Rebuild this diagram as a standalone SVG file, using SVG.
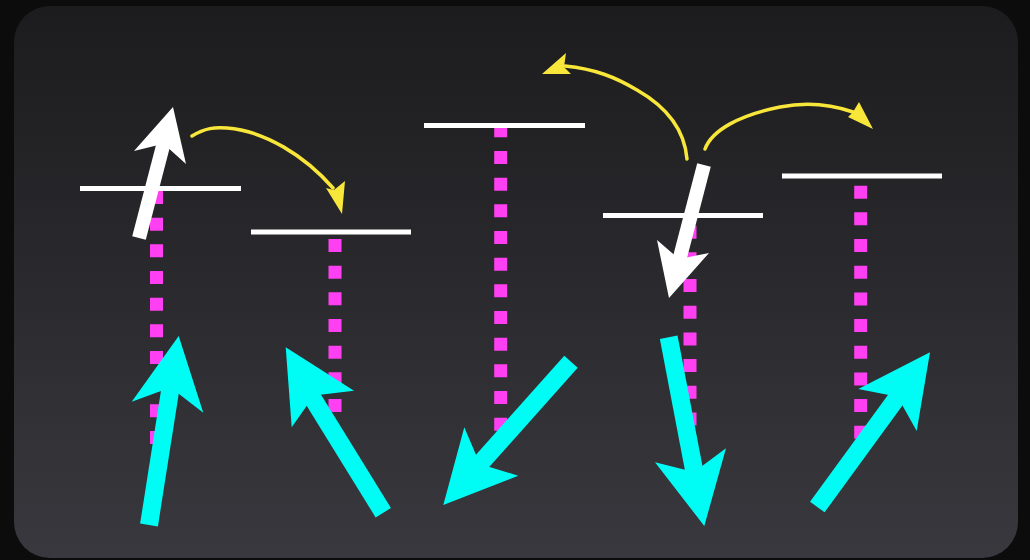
<svg xmlns="http://www.w3.org/2000/svg" width="1030" height="560" viewBox="0 0 1030 560">
  <defs>
    <linearGradient id="panel" x1="0" y1="0" x2="0" y2="1">
      <stop offset="0" stop-color="#1c1c1e"/>
      <stop offset="1" stop-color="#38383e"/>
    </linearGradient>
    <style>
      .level { stroke: #ffffff; stroke-width: 5; }
      .dots { stroke: #ff40f2; stroke-width: 13; stroke-dasharray: 13 13.67; fill: none; }
      .wshaft { stroke: #ffffff; stroke-width: 14; }
      .whead { fill: #ffffff; }
      .cshaft { stroke: #00fdf5; stroke-width: 18; }
      .chead { fill: #00fdf5; }
      .ycurve { stroke: #f8e73a; stroke-width: 3.5; fill: none; stroke-linecap: round; }
      .yhead { fill: #f8e73a; }
    </style>
  </defs>
  <rect x="0" y="0" width="1030" height="560" fill="#0c0c0c"/>
  <rect x="14" y="6" width="1004" height="552" rx="36" ry="36" fill="url(#panel)"/>

  <g id="node-level-1">
    <line class="dots" x1="156.5" y1="191" x2="156.5" y2="444"/>
    <line class="level" x1="80" y1="188.5" x2="241" y2="188.5"/>
  </g>
  <g id="node-level-2">
    <line class="dots" x1="335" y1="239" x2="335" y2="412"/>
    <line class="level" x1="251" y1="232" x2="411" y2="232"/>
  </g>
  <g id="node-level-3">
    <line class="dots" x1="500.7" y1="124.3" x2="500.7" y2="431"/>
    <line class="level" x1="424" y1="125.5" x2="585" y2="125.5"/>
  </g>
  <g id="node-level-4">
    <line class="dots" x1="690" y1="225.7" x2="690" y2="426"/>
    <line class="level" x1="603" y1="215.5" x2="763" y2="215.5"/>
  </g>
  <g id="node-level-5">
    <line class="dots" x1="860.7" y1="185.7" x2="860.7" y2="439"/>
    <line class="level" x1="782" y1="176" x2="942" y2="176"/>
  </g>

  <g id="connectors">
    <!-- white spin arrows -->
    <line class="wshaft" x1="139" y1="238" x2="164" y2="142"/>
    <polygon class="whead" points="173,107 186,164 163.5,143.8 134,151"/>
    <line class="wshaft" x1="704" y1="165" x2="679" y2="261"/>
    <polygon class="whead" points="669,298 657,240 679,259 709,253"/>

    <!-- yellow curved arrows -->
    <path class="ycurve" d="M192,136 C205,128 215,127 227,128 C265,131 305,156 333,188"/>
    <polygon class="yhead" points="342,214 326,188 334,190 345,181"/>
    <path class="ycurve" d="M687,159 C685,135 672,110 637,90 C615,77 595,69 565,66"/>
    <polygon class="yhead" points="542,74 566,53 564,67 571,74"/>
    <path class="ycurve" d="M705,149 C712,130 740,115 780,107 C805,102 830,104 853,112"/>
    <polygon class="yhead" points="873,129 848,117 853,112 859,102"/>

    <!-- cyan arrows -->
    <line class="cshaft" x1="149" y1="525" x2="171" y2="385"/>
    <polygon class="chead" points="178.7,336 203.3,412.7 170.6,387.4 131.7,401.7"/>
    <line class="cshaft" x1="383.3" y1="512.7" x2="310" y2="394"/>
    <polygon class="chead" points="285.7,347.3 354,390.7 314,395.5 291.7,427.3"/>
    <line class="cshaft" x1="571" y1="361.7" x2="478" y2="466"/>
    <polygon class="chead" points="443.3,505 464.3,427.3 479.9,464 518.3,475.7"/>
    <line class="cshaft" x1="668.7" y1="337.3" x2="695" y2="475"/>
    <polygon class="chead" points="704.3,526 655,462.3 694.1,472 726,448.3"/>
    <line class="cshaft" x1="817.3" y1="507" x2="899" y2="395"/>
    <polygon class="chead" points="930,352.3 916.7,431 897.6,396.7 858.3,389"/>
  </g>
</svg>
